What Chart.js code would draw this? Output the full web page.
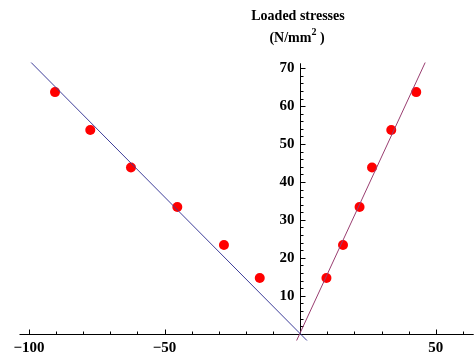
<!DOCTYPE html>
<html>
<head>
<meta charset="utf-8">
<script src="https://cdn.jsdelivr.net/npm/chart.js@4/dist/chart.umd.min.js"></script>
<style>
  body { margin: 0; background: #fff; }
</style>
</head>
<body>
<canvas id="chart" width="476" height="362"></canvas>
<script>
// measured points (red dots)
const leftX = [-90.4, -77.4, -62.4, -45.3, -28.1, -14.9];
const leftY = [63.7, 53.7, 43.8, 33.4, 23.4, 14.7];
const rightX = [9.7, 15.8, 21.9, 26.5, 33.6, 42.8];
const rightY = [14.7, 23.4, 33.4, 43.8, 53.7, 63.7];

// fitted lines, end points
const blueLineX = [-99.2, 2.5];
const blueLineY = [71.5, -1.8];
const purpleLineX = [-1.3, 46.1];
const purpleLineY = [-1.8, 71.5];

// axes
const xTicks = [-100, -50, 50];
const xTickLabels = ['\u2212100', '\u221250', '50'];
const xMinorTicks = [-90, -80, -70, -60, -40, -30, -20, -10, 10, 20, 30, 40, 60];
const yTicks = [10, 20, 30, 40, 50, 60, 70];
const yTickLabels = ['10', '20', '30', '40', '50', '60', '70'];
const xAxisRange = [-103.5, 64];
const yAxisRange = [0, 71.3];

function pts(xs, ys) {
  return xs.map((x, i) => ({x: x, y: ys[i]}));
}

const labelFont = 'bold 15px "Liberation Serif", "Times New Roman", serif';

const axesPlugin = {
  id: 'centerAxes',
  beforeDatasetsDraw(chart) {
    const ctx = chart.ctx;
    const xs = chart.scales.x;
    const ys = chart.scales.y;
    const ox = Math.round(xs.getPixelForValue(0)) + 0.5;
    const oy = Math.round(ys.getPixelForValue(0)) + 0.5;

    ctx.save();
    ctx.strokeStyle = '#000';
    ctx.lineWidth = 1;
    ctx.beginPath();
    ctx.moveTo(xs.getPixelForValue(xAxisRange[0]), oy);
    ctx.lineTo(xs.getPixelForValue(xAxisRange[1]), oy);
    ctx.moveTo(ox, ys.getPixelForValue(yAxisRange[0]));
    ctx.lineTo(ox, ys.getPixelForValue(yAxisRange[1]));

    xTicks.forEach(v => {
      const px = Math.round(xs.getPixelForValue(v)) + 0.5;
      ctx.moveTo(px, oy); ctx.lineTo(px, oy - 5);
    });
    xMinorTicks.forEach(v => {
      const px = Math.round(xs.getPixelForValue(v)) + 0.5;
      ctx.moveTo(px, oy); ctx.lineTo(px, oy - 3);
    });
    for (let v = 2; v <= 70; v += 2) {
      const py = Math.round(ys.getPixelForValue(v)) + 0.5;
      const len = (v % 10 === 0) ? 5 : 3;
      ctx.moveTo(ox, py); ctx.lineTo(ox + len, py);
    }
    ctx.stroke();

    ctx.fillStyle = '#000';
    ctx.font = labelFont;
    ctx.textAlign = 'center';
    ctx.textBaseline = 'middle';
    xTicks.forEach((v, i) => {
      ctx.fillText(xTickLabels[i], xs.getPixelForValue(v), oy + 14);
    });
    ctx.textAlign = 'right';
    yTicks.forEach((v, i) => {
      ctx.fillText(yTickLabels[i], ox - 6, ys.getPixelForValue(v));
    });

    // axis label
    ctx.textAlign = 'center';
    ctx.textBaseline = 'alphabetic';
    ctx.font = 'bold 14px "Liberation Serif", "Times New Roman", serif';
    ctx.fillText('Loaded stresses', 298, 20);
    const p1 = '(N/mm', p2 = '2', p3 = ' )';
    const w1 = ctx.measureText(p1).width;
    ctx.font = 'bold 10px "Liberation Serif", "Times New Roman", serif';
    const w2 = ctx.measureText(p2).width;
    ctx.font = 'bold 14px "Liberation Serif", "Times New Roman", serif';
    const w3 = ctx.measureText(p3).width;
    let sx = 297 - (w1 + w2 + w3) / 2;
    ctx.textAlign = 'left';
    ctx.fillText(p1, sx, 42);
    ctx.fillText(p3, sx + w1 + w2, 42);
    ctx.font = 'bold 10px "Liberation Serif", "Times New Roman", serif';
    ctx.fillText(p2, sx + w1, 35);
    ctx.restore();
  }
};

new Chart(document.getElementById('chart').getContext('2d'), {
  type: 'scatter',
  data: {
    datasets: [
      {
        data: pts(blueLineX, blueLineY),
        showLine: true,
        borderColor: '#3d3d99',
        borderWidth: 1,
        pointRadius: 0,
        fill: false
      },
      {
        data: pts(purpleLineX, purpleLineY),
        showLine: true,
        borderColor: '#993d70',
        borderWidth: 1,
        pointRadius: 0,
        fill: false
      },
      {
        data: pts(leftX, leftY).concat(pts(rightX, rightY)),
        pointRadius: 5,
        pointBackgroundColor: '#ff0000',
        pointBorderWidth: 0,
        borderColor: '#ff0000'
      }
    ]
  },
  options: {
    responsive: false,
    animation: false,
    layout: { padding: 0 },
    plugins: {
      legend: { display: false },
      tooltip: { enabled: false }
    },
    scales: {
      x: { type: 'linear', min: -108.85, max: 63.0, display: false },
      y: { type: 'linear', min: -6.15, max: 86.67, display: false }
    }
  },
  plugins: [axesPlugin]
});
</script>
</body>
</html>
